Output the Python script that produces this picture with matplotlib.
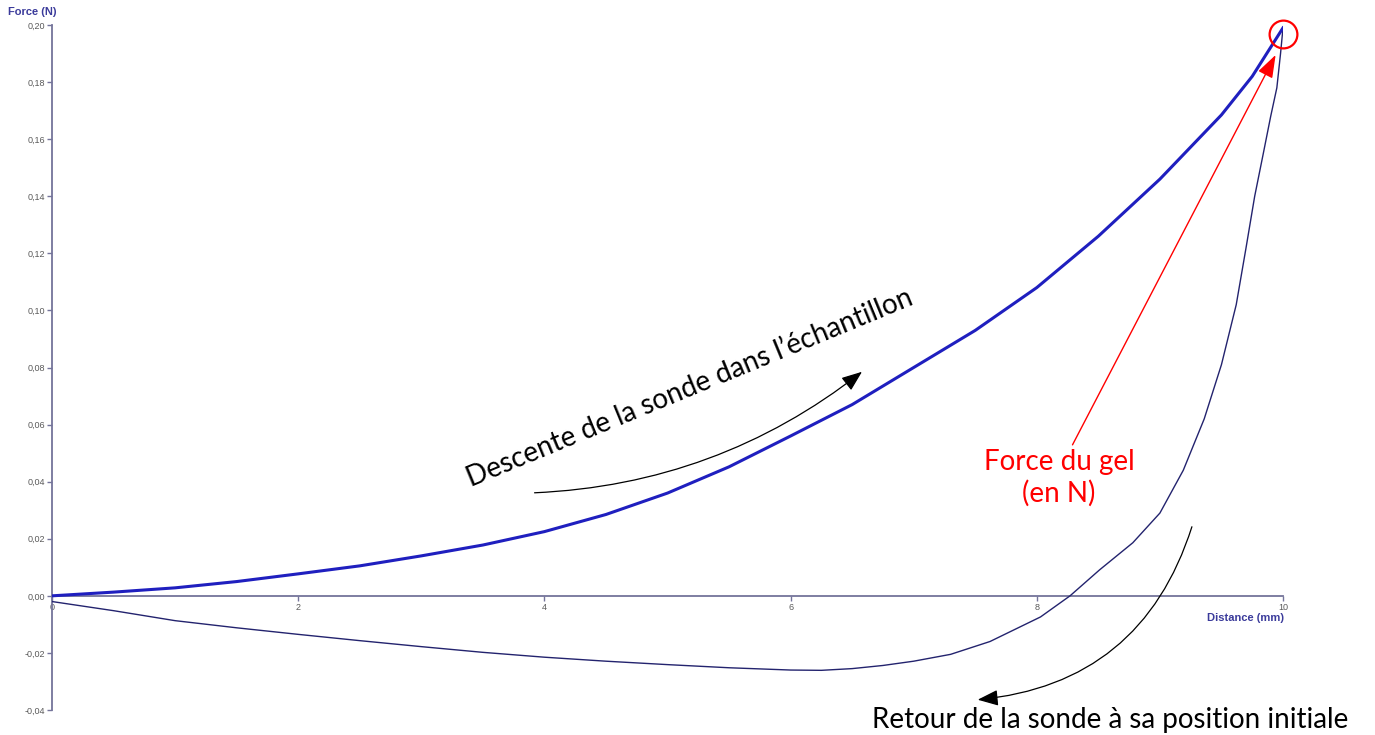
import matplotlib
matplotlib.use("Agg")
import matplotlib.pyplot as plt
from matplotlib.ticker import FuncFormatter

# ---- data ----
descent_x = [0.0, 0.5, 1.0, 1.5, 2.0, 2.5, 3.0, 3.5, 4.0, 4.5, 5.0, 5.5, 6.0,
             6.5, 7.0, 7.5, 8.0, 8.5, 9.0, 9.5, 9.75, 10.0]
descent_y = [0.000, 0.0013, 0.0028, 0.0050, 0.0077, 0.0105, 0.0140, 0.0178, 0.0225,
             0.0285, 0.0360, 0.0452, 0.0560, 0.0670, 0.0800, 0.0930, 0.1080,
             0.1260, 0.1460, 0.1685, 0.1820, 0.1990]

return_x = [10.0, 9.98, 9.95, 9.90, 9.84, 9.77, 9.70, 9.62, 9.50, 9.36, 9.19, 9.0,
            8.78, 8.51, 8.27, 8.03, 7.62, 7.3, 7.0, 6.75, 6.5, 6.25, 6.0, 5.5,
            5.0, 4.5, 4.0, 3.5, 3.0, 2.5, 2.0, 1.5, 1.0, 0.5, 0.0]
return_y = [0.199, 0.190, 0.178, 0.168, 0.155, 0.140, 0.122, 0.102, 0.081, 0.062,
            0.044, 0.029, 0.0186, 0.0091, 0.0, -0.0074, -0.0160, -0.0205, -0.0229,
            -0.0244, -0.0255, -0.0261, -0.0260, -0.0252, -0.0241, -0.0229, -0.0215,
            -0.0198, -0.0178, -0.0157, -0.0135, -0.0112, -0.0087, -0.0052, -0.0020]

x_ticks = [0, 2, 4, 6, 8, 10]
y_ticks = [-0.04, -0.02, 0.00, 0.02, 0.04, 0.06, 0.08, 0.10, 0.12, 0.14, 0.16, 0.18, 0.20]
peak = (10.0, 0.197)

# ---- figure ----
fig = plt.figure(figsize=(13.75, 7.35), dpi=100)
ax = fig.add_axes([52 / 1375, 25 / 735, (1283 - 52) / 1375, 685 / 735])

axis_col = "#74749a"
label_col = "#3b3b9b"
tick_txt = "#5a5a5a"

ax.plot(return_x, return_y, color="#23236e", lw=1.0, zorder=3)
ax.plot(descent_x, descent_y, color="#1f1fbf", lw=2.2, zorder=4)

ax.set_xlim(0, 10)
ax.set_ylim(-0.04, 0.20)
ax.spines["top"].set_visible(False)
ax.spines["right"].set_visible(False)
ax.spines["bottom"].set_position(("data", 0))
for s in ("left", "bottom"):
    ax.spines[s].set_color(axis_col)
    ax.spines[s].set_linewidth(1.3)

ax.set_xticks(x_ticks)
ax.set_yticks(y_ticks)
ax.xaxis.set_major_formatter(FuncFormatter(lambda v, p: f"{v:g}"))
ax.yaxis.set_major_formatter(FuncFormatter(lambda v, p: f"{v:.2f}".replace(".", ",")))
ax.tick_params(axis="both", direction="out", length=3.5, width=1, color=axis_col,
               labelsize=6.5, labelcolor=tick_txt, pad=1.5)
for lab in ax.get_xticklabels() + ax.get_yticklabels():
    lab.set_fontfamily("Liberation Sans")

fig.text(8 / 1375, 1 - 12 / 735, "Force (N)", fontsize=8, fontweight="bold",
         color=label_col, family="Liberation Sans", ha="left", va="center")
fig.text(1284 / 1375, 1 - 618 / 735, "Distance (mm)", fontsize=8, fontweight="bold",
         color=label_col, family="Liberation Sans", ha="right", va="center")

big = dict(family="Lato", fontsize=20)

# Descent annotation
ax.text(3.40, 0.0380, "Descente de la sonde dans l\u2019échantillon", rotation=22.4,
        rotation_mode="anchor", ha="left", va="baseline", color="black", **big)
ax.annotate("", xy=(6.58, 0.0785), xytext=(3.92, 0.0361),
            arrowprops=dict(arrowstyle="-|>,head_length=0.9,head_width=0.35",
                            color="black", lw=0.9, mutation_scale=14,
                            connectionstyle="arc3,rad=0.16", shrinkA=0, shrinkB=0))

# Force du gel annotation
ax.text(8.18, 0.0441, "Force du gel", ha="center", va="baseline", color="red", **big)
ax.text(8.18, 0.0329, "(en N)", ha="center", va="baseline", color="red", **big)
ax.annotate("", xy=(9.94, 0.1895), xytext=(8.29, 0.0529),
            arrowprops=dict(arrowstyle="-|>,head_length=1.0,head_width=0.35",
                            color="red", lw=1.0, mutation_scale=14,
                            shrinkA=0, shrinkB=0))
ax.plot([peak[0]], [peak[1]], marker="o", markersize=20, markerfacecolor="none",
        markeredgecolor="red", markeredgewidth=1.6, clip_on=False, zorder=6)

# Return annotation
ax.annotate("", xy=(7.52, -0.0364), xytext=(9.26, 0.0242),
            arrowprops=dict(arrowstyle="-|>,head_length=0.9,head_width=0.35",
                            color="black", lw=0.9, mutation_scale=14,
                            connectionstyle="arc3,rad=-0.33", shrinkA=0, shrinkB=0),
            annotation_clip=False)
fig.text(872 / 1375, 1 - 728 / 735, "Retour de la sonde à sa position initiale",
         ha="left", va="baseline", color="black", **big)

fig.savefig("out.png", dpi=100)
